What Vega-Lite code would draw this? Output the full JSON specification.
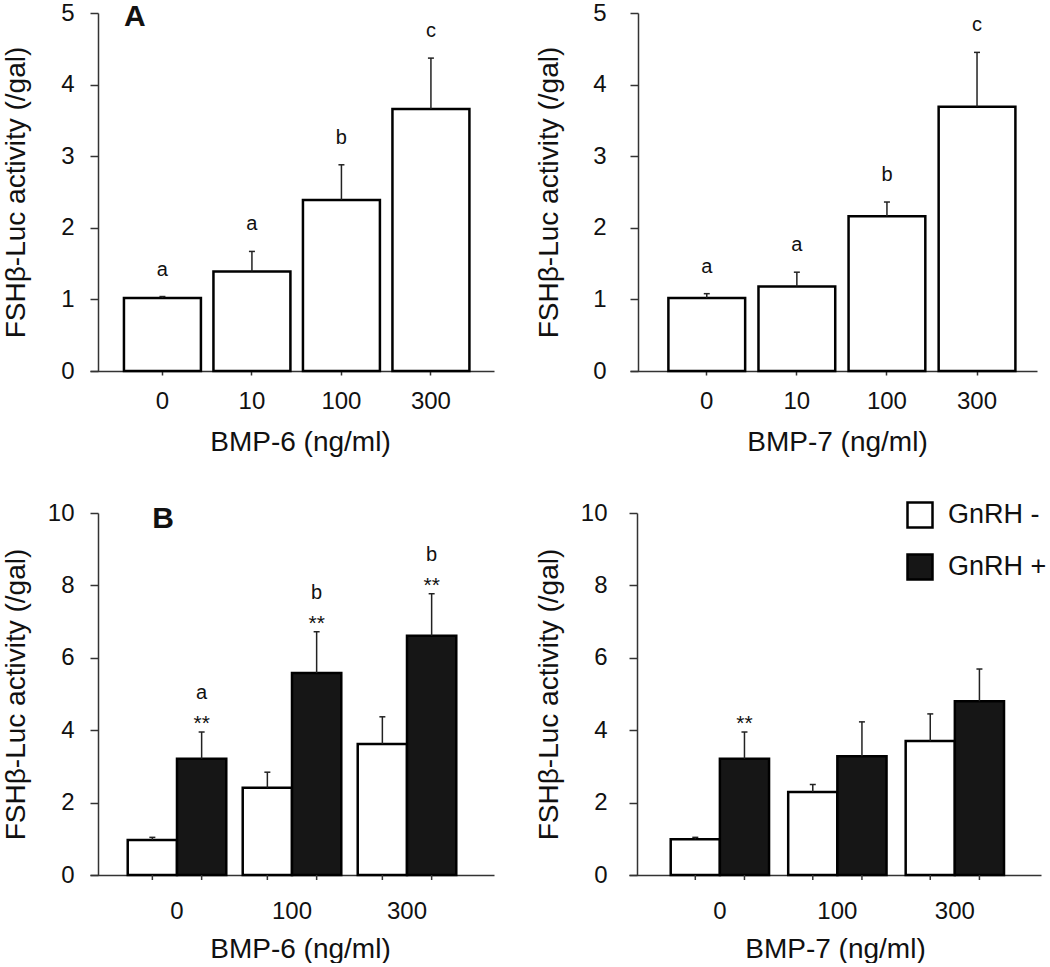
{
  "$schema": "https://vega.github.io/schema/vega-lite/v6.json",
  "padding": {"left": 2, "top": 1, "right": 0, "bottom": 0},
  "background": "white",
  "config": {
    "view": {"stroke": null},
    "font": "Liberation Sans",
    "axis": {
      "grid": false,
      "labelFont": "Liberation Sans",
      "titleFont": "Liberation Sans",
      "labelFontSize": 24,
      "titleFontSize": 28,
      "titleFontWeight": "normal",
      "labelColor": "#111",
      "titleColor": "#111",
      "domainColor": "#333",
      "tickColor": "#333",
      "domainWidth": 1.5,
      "tickWidth": 1.5
    },
    "text": {"font": "Liberation Sans", "color": "#111"}
  },
  "vconcat": [
    {
      "spacing": 41,
      "hconcat": [
        {
          "width": 404,
          "height": 358,
          "data": {"values": [
            {"dose": "0", "mean": 1.02, "upper": 1.04, "letter": "a"},
            {"dose": "10", "mean": 1.39, "upper": 1.67, "letter": "a"},
            {"dose": "100", "mean": 2.39, "upper": 2.88, "letter": "b"},
            {"dose": "300", "mean": 3.66, "upper": 4.37, "letter": "c"}
          ]},
          "encoding": {
            "x": {"field": "dose", "type": "ordinal", "sort": ["0", "10", "100", "300"],
              "scale": {"paddingInner": 0.14, "paddingOuter": 0.327, "align": 0.58},
              "axis": {"title": "BMP-6 (ng/ml)", "labelAngle": 0, "tickSize": 4, "labelPadding": 14, "titlePadding": 15, "titleX": 210}}
          },
          "layer": [
            {"mark": {"type": "bar", "fill": "white", "stroke": "black", "strokeWidth": 2.5},
             "encoding": {"y": {"field": "mean", "type": "quantitative", "scale": {"domain": [0, 5], "nice": false},
               "axis": {"title": "FSHβ-Luc activity (/gal)", "offset": -8,
                 "values": [0, 0.5, 1, 1.5, 2, 2.5, 3, 3.5, 4, 4.5, 5],
                 "labelExpr": "datum.value % 1 === 0 ? format(datum.value, 'd') : ''",
                 "tickSize": 8,
                 "tickDash": {"condition": {"test": "datum.value % 1 !== 0", "value": [4, 10]}, "value": []},
                 "labelPadding": 16, "titlePadding": 30}}}},
            {"mark": {"type": "rule", "stroke": "#222", "strokeWidth": 1.5},
             "encoding": {"y": {"field": "mean", "type": "quantitative"}, "y2": {"field": "upper"}}},
            {"mark": {"type": "tick", "color": "#222", "size": 6, "thickness": 1.5, "opacity": 1},
             "encoding": {"y": {"field": "upper", "type": "quantitative"}}},
            {"mark": {"type": "text", "baseline": "alphabetic", "dy": -21, "fontSize": 20},
             "encoding": {"y": {"field": "upper", "type": "quantitative"}, "text": {"field": "letter"}}},
            {"data": {"values": [{"panel": "A"}]},
             "mark": {"type": "text", "align": "left", "baseline": "alphabetic", "dy": 13, "fontSize": 30, "fontWeight": "bold"},
             "encoding": {"x": {"datum": "0", "type": "ordinal", "bandPosition": 0}, "y": {"datum": 5, "type": "quantitative"}, "text": {"field": "panel"}}}
          ]
        },
        {
          "width": 407,
          "height": 358,
          "data": {"values": [
            {"dose": "0", "mean": 1.02, "upper": 1.08, "letter": "a"},
            {"dose": "10", "mean": 1.18, "upper": 1.38, "letter": "a"},
            {"dose": "100", "mean": 2.16, "upper": 2.36, "letter": "b"},
            {"dose": "300", "mean": 3.69, "upper": 4.45, "letter": "c"}
          ]},
          "encoding": {
            "x": {"field": "dose", "type": "ordinal", "sort": ["0", "10", "100", "300"],
              "scale": {"paddingInner": 0.148, "paddingOuter": 0.333, "align": 0.64},
              "axis": {"title": "BMP-7 (ng/ml)", "labelAngle": 0, "tickSize": 4, "labelPadding": 14, "titlePadding": 15, "titleX": 207}}
          },
          "layer": [
            {"mark": {"type": "bar", "fill": "white", "stroke": "black", "strokeWidth": 2.5},
             "encoding": {"y": {"field": "mean", "type": "quantitative", "scale": {"domain": [0, 5], "nice": false},
               "axis": {"title": "FSHβ-Luc activity (/gal)", "offset": -8,
                 "values": [0, 0.5, 1, 1.5, 2, 2.5, 3, 3.5, 4, 4.5, 5],
                 "labelExpr": "datum.value % 1 === 0 ? format(datum.value, 'd') : ''",
                 "tickSize": 8,
                 "tickDash": {"condition": {"test": "datum.value % 1 !== 0", "value": [4, 10]}, "value": []},
                 "labelPadding": 24, "titlePadding": 29}}}},
            {"mark": {"type": "rule", "stroke": "#222", "strokeWidth": 1.5},
             "encoding": {"y": {"field": "mean", "type": "quantitative"}, "y2": {"field": "upper"}}},
            {"mark": {"type": "tick", "color": "#222", "size": 6, "thickness": 1.5, "opacity": 1},
             "encoding": {"y": {"field": "upper", "type": "quantitative"}}},
            {"mark": {"type": "text", "baseline": "alphabetic", "dy": -21, "fontSize": 20},
             "encoding": {"y": {"field": "upper", "type": "quantitative"}, "text": {"field": "letter"}}}
          ]
        }
      ]
    },
    {
      "spacing": 41,
      "resolve": {"scale": {"color": "independent", "xOffset": "independent"}, "legend": {"color": "independent"}},
      "hconcat": [
        {
          "width": 404,
          "height": 362,
          "data": {"values": [
            {"dose": "0", "gnrh": "GnRH -", "mean": 0.97, "upper": 1.04, "star": "", "letter": ""},
            {"dose": "0", "gnrh": "GnRH +", "mean": 3.21, "upper": 3.95, "star": "**", "letter": "a"},
            {"dose": "100", "gnrh": "GnRH -", "mean": 2.41, "upper": 2.84, "star": "", "letter": ""},
            {"dose": "100", "gnrh": "GnRH +", "mean": 5.58, "upper": 6.72, "star": "**", "letter": "b"},
            {"dose": "300", "gnrh": "GnRH -", "mean": 3.62, "upper": 4.37, "star": "", "letter": ""},
            {"dose": "300", "gnrh": "GnRH +", "mean": 6.61, "upper": 7.77, "star": "**", "letter": "b"}
          ]},
          "encoding": {
            "x": {"field": "dose", "type": "ordinal", "sort": ["0", "100", "300"],
              "scale": {"paddingInner": 0.143, "paddingOuter": 0.328, "align": 0.5},
              "axis": {"title": "BMP-6 (ng/ml)", "labelAngle": 0, "ticks": false, "labelPadding": 24, "titlePadding": 12, "titleX": 210}},
            "xOffset": {"field": "gnrh", "type": "nominal", "sort": ["GnRH -", "GnRH +"], "scale": {"domain": ["GnRH -", "GnRH +"], "paddingInner": 0, "paddingOuter": 0}}
          },
          "layer": [
            {"mark": {"type": "bar", "stroke": "black", "strokeWidth": 2.5, "opacity": 1},
             "encoding": {
               "y": {"field": "mean", "type": "quantitative", "scale": {"domain": [0, 10], "nice": false},
                 "axis": {"title": "FSHβ-Luc activity (/gal)", "offset": -8,
                   "values": [0, 1, 2, 3, 4, 5, 6, 7, 8, 9, 10],
                   "labelExpr": "datum.value % 2 === 0 ? format(datum.value, 'd') : ''",
                   "tickSize": 8,
                   "tickDash": {"condition": {"test": "datum.value % 2 !== 0", "value": [4, 10]}, "value": []},
                   "labelPadding": 16, "titlePadding": 17}},
               "color": {"field": "gnrh", "type": "nominal", "scale": {"domain": ["GnRH -", "GnRH +"], "range": ["white", "#161616"]}, "legend": null}
             }},
            {"mark": {"type": "rule", "stroke": "#333", "strokeWidth": 1.5, "y2Offset": 5},
             "encoding": {"y": {"datum": 0, "type": "quantitative"}, "y2": {"datum": 0}}},
            {"mark": {"type": "rule", "stroke": "#222", "strokeWidth": 1.5},
             "encoding": {"y": {"field": "mean", "type": "quantitative"}, "y2": {"field": "upper"}}},
            {"mark": {"type": "tick", "color": "#222", "size": 6, "thickness": 1.5, "opacity": 1},
             "encoding": {"y": {"field": "upper", "type": "quantitative"}}},
            {"mark": {"type": "text", "baseline": "alphabetic", "dy": -2, "fontSize": 21},
             "encoding": {"y": {"field": "upper", "type": "quantitative"}, "text": {"field": "star"}}},
            {"mark": {"type": "text", "baseline": "alphabetic", "dy": -33, "fontSize": 20},
             "encoding": {"y": {"field": "upper", "type": "quantitative"}, "text": {"field": "letter"}}},
            {"data": {"values": [{"panel": "B"}]},
             "mark": {"type": "text", "align": "left", "baseline": "alphabetic", "dy": 15, "fontSize": 30, "fontWeight": "bold"},
             "encoding": {"x": {"datum": "0", "type": "ordinal", "bandPosition": 0},
               "xOffset": {"datum": "GnRH -", "type": "nominal", "bandPosition": 0},
               "y": {"datum": 10, "type": "quantitative"}, "text": {"field": "panel"}}}
          ]
        },
        {
          "width": 412,
          "height": 362,
          "data": {"values": [
            {"dose": "0", "gnrh": "GnRH -", "mean": 0.99, "upper": 1.04, "star": ""},
            {"dose": "0", "gnrh": "GnRH +", "mean": 3.21, "upper": 3.95, "star": "**"},
            {"dose": "100", "gnrh": "GnRH -", "mean": 2.29, "upper": 2.50, "star": ""},
            {"dose": "100", "gnrh": "GnRH +", "mean": 3.28, "upper": 4.23, "star": ""},
            {"dose": "300", "gnrh": "GnRH -", "mean": 3.70, "upper": 4.45, "star": ""},
            {"dose": "300", "gnrh": "GnRH +", "mean": 4.80, "upper": 5.69, "star": ""}
          ]},
          "encoding": {
            "x": {"field": "dose", "type": "ordinal", "sort": ["0", "100", "300"],
              "scale": {"paddingInner": 0.163, "paddingOuter": 0.335, "align": 0.53},
              "axis": {"title": "BMP-7 (ng/ml)", "labelAngle": 0, "ticks": false, "labelPadding": 24, "titlePadding": 12}},
            "xOffset": {"field": "gnrh", "type": "nominal", "sort": ["GnRH -", "GnRH +"], "scale": {"domain": ["GnRH -", "GnRH +"], "paddingInner": 0, "paddingOuter": 0}}
          },
          "layer": [
            {"mark": {"type": "bar", "stroke": "black", "strokeWidth": 2.5, "opacity": 1},
             "encoding": {
               "y": {"field": "mean", "type": "quantitative", "scale": {"domain": [0, 10], "nice": false},
                 "axis": {"title": "FSHβ-Luc activity (/gal)", "offset": -8,
                   "values": [0, 1, 2, 3, 4, 5, 6, 7, 8, 9, 10],
                   "labelExpr": "datum.value % 2 === 0 ? format(datum.value, 'd') : ''",
                   "tickSize": 8,
                   "tickDash": {"condition": {"test": "datum.value % 2 !== 0", "value": [4, 10]}, "value": []},
                   "labelPadding": 22, "titlePadding": 17}},
               "color": {"field": "gnrh", "type": "nominal", "scale": {"domain": ["GnRH -", "GnRH +"], "range": ["white", "#161616"]},
                 "legend": {"title": null, "orient": "none", "legendX": 277, "legendY": -12,
                   "symbolType": "square", "symbolSize": 625, "symbolStrokeColor": "black", "symbolStrokeWidth": 2.5,
                   "labelFontSize": 27, "labelFont": "Liberation Sans", "labelColor": "#111", "labelOffset": 14, "rowPadding": 16, "padding": 0}}
             }},
            {"mark": {"type": "rule", "stroke": "#333", "strokeWidth": 1.5, "y2Offset": 5},
             "encoding": {"y": {"datum": 0, "type": "quantitative"}, "y2": {"datum": 0}}},
            {"mark": {"type": "rule", "stroke": "#222", "strokeWidth": 1.5},
             "encoding": {"y": {"field": "mean", "type": "quantitative"}, "y2": {"field": "upper"}}},
            {"mark": {"type": "tick", "color": "#222", "size": 6, "thickness": 1.5, "opacity": 1},
             "encoding": {"y": {"field": "upper", "type": "quantitative"}}},
            {"mark": {"type": "text", "baseline": "alphabetic", "dy": -2, "fontSize": 21},
             "encoding": {"y": {"field": "upper", "type": "quantitative"}, "text": {"field": "star"}}}
          ]
        }
      ]
    }
  ],
  "spacing": 45
}
